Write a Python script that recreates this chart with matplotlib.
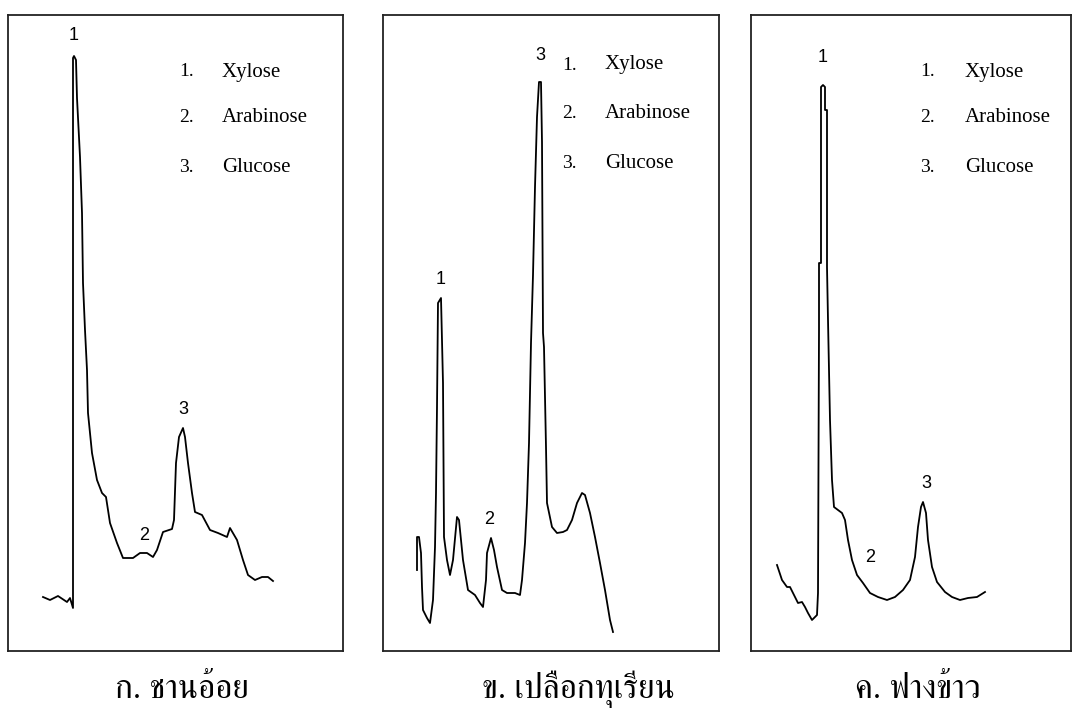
import matplotlib
matplotlib.use("Agg")
import matplotlib.pyplot as plt

# chromatogram traces: retention (arbitrary units) and detector signal
rt_bagasse = [35, 42, 50, 59, 62, 65, 65, 66, 68, 69, 72, 74, 75, 77, 79, 80, 84, 89, 94, 98,
              102, 109, 115, 125, 132, 139, 145, 149, 155, 164, 166, 168, 171, 175, 177, 180,
              184, 187, 194, 202, 210, 219, 222, 229, 235, 240, 247, 254, 260, 265]
sig_bagasse = [54, 51, 55, 49, 53, 43, 593, 595, 591, 553, 494, 438, 368, 321, 281, 238, 198,
               171, 158, 154, 128, 108, 93, 93, 98, 98, 94, 101, 119, 122, 131, 188, 214, 223,
               214, 188, 158, 139, 136, 121, 118, 114, 123, 111, 91, 76, 71, 74, 74, 70]

rt_durian = [34, 34, 36, 38, 39, 40, 44, 47, 50, 52, 53, 54, 55, 58, 60, 61, 64, 67, 70, 74,
             76, 80, 85, 92, 97, 100, 103, 104, 108, 111, 114, 119, 124, 132, 137, 139, 142,
             144, 146, 148, 150, 152, 154, 156, 158, 159, 160, 161, 163, 164, 169, 174, 180,
             184, 189, 194, 199, 202, 207, 212, 217, 222, 227, 230]
sig_durian = [81, 114, 114, 98, 64, 41, 33, 28, 51, 104, 158, 244, 348, 353, 268, 114, 91, 76,
              91, 134, 131, 91, 61, 56, 48, 44, 71, 98, 113, 101, 84, 61, 58, 58, 56, 71, 108,
              148, 208, 308, 376, 464, 534, 569, 569, 509, 318, 304, 204, 148, 124, 118, 119,
              121, 131, 148, 158, 156, 138, 114, 88, 61, 31, 19]

rt_straw = [26, 31, 36, 39, 44, 47, 51, 54, 57, 61, 66, 67, 68, 68, 70, 70, 72, 74, 74, 76, 76,
            77, 79, 81, 83, 91, 94, 97, 101, 106, 112, 119, 127, 136, 144, 152, 159, 164, 167,
            170, 172, 175, 177, 181, 186, 194, 201, 209, 217, 226, 234]
sig_straw = [86, 71, 64, 64, 54, 48, 49, 44, 38, 31, 36, 58, 321, 388, 388, 564, 566, 564, 541,
             541, 384, 331, 231, 171, 144, 138, 131, 111, 91, 76, 68, 58, 54, 51, 54, 61, 71,
             94, 124, 144, 149, 138, 111, 84, 69, 59, 54, 51, 53, 54, 59]

# peak number labels (rt, signal) per panel
peaks_bagasse = [("1", 66, 616), ("2", 136, 115), ("3", 175, 242)]
peaks_durian = [("1", 58, 371), ("2", 106, 131), ("3", 157, 596)]
peaks_straw = [("1", 72, 593), ("2", 119, 94), ("3", 175, 168)]

sugars = ["Xylose", "Arabinose", "Glucose"]
titles = ["ก. ชานอ้อย", "ข. เปลือกทุเรียน", "ค. ฟางข้าว"]

W, H = 1074, 708
fig = plt.figure(figsize=(W / 100, H / 100), dpi=100)

# panel boxes in pixels: left, right, top, bottom
boxes = [(8, 343, 15, 651), (383, 719, 15, 651), (751, 1071, 15, 651)]
legend_x = [(171, 214), (179, 222), (169, 214)]
legend_y = [(579, 533, 483), (586, 538, 488), (579, 533, 483)]
title_x = [182, 578, 918]
traces = [(rt_bagasse, sig_bagasse), (rt_durian, sig_durian), (rt_straw, sig_straw)]
peak_labels = [peaks_bagasse, peaks_durian, peaks_straw]

for i, (l, r, t, b) in enumerate(boxes):
    ax = fig.add_axes([l / W, 1 - b / H, (r - l) / W, (b - t) / H])
    ax.set_xlim(0, r - l)
    ax.set_ylim(0, b - t)
    ax.set_xticks([])
    ax.set_yticks([])
    for s in ax.spines.values():
        s.set_linewidth(1.3)
        s.set_color('#222222')
    x, y = traces[i]
    ax.plot(x, y, color='black', lw=1.3)
    for lab, px, py in peak_labels[i]:
        ax.text(px, py, lab, ha='center', va='center', fontsize=13, family='Liberation Sans')
    for k, name in enumerate(sugars):
        ax.text(legend_x[i][0], legend_y[i][k], '{}.'.format(k + 1), va='center', fontsize=14,
                family='Liberation Serif')
        ax.text(legend_x[i][1], legend_y[i][k], name, va='center', fontsize=15,
                family='Liberation Serif')
    fig.text(title_x[i] / W, 1 - 698 / H, titles[i], ha='center', va='baseline', fontsize=24,
             family=['FreeSerif', 'DejaVu Sans'])

plt.savefig('out.png', dpi=100)
